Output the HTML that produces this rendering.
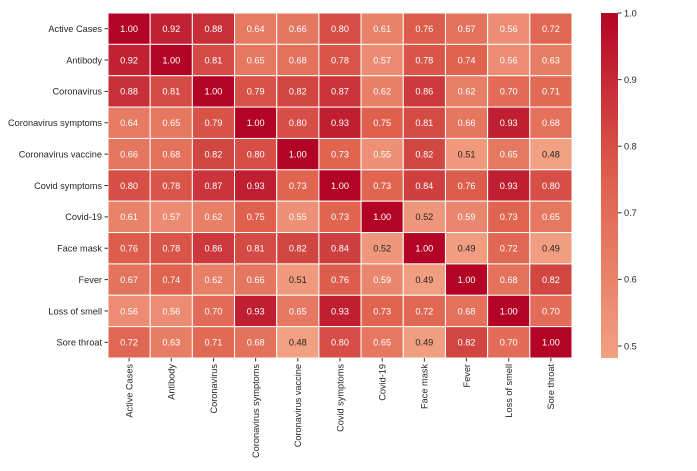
<!DOCTYPE html>
<html><head><meta charset="utf-8"><style>
body{margin:0;background:#fff;width:697px;height:466px;overflow:hidden}
svg text{font-family:"Liberation Sans","DejaVu Sans",sans-serif}
</style></head><body>
<svg id="chart" width="697" height="466"></svg>
<script>
const labels=["Active Cases","Antibody","Coronavirus","Coronavirus symptoms","Coronavirus vaccine","Covid symptoms","Covid-19","Face mask","Fever","Loss of smell","Sore throat"];
const row0=[1.00,0.92,0.88,0.64,0.66,0.80,0.61,0.76,0.67,0.56,0.72];
const row1=[0.92,1.00,0.81,0.65,0.68,0.78,0.57,0.78,0.74,0.56,0.63];
const row2=[0.88,0.81,1.00,0.79,0.82,0.87,0.62,0.86,0.62,0.70,0.71];
const row3=[0.64,0.65,0.79,1.00,0.80,0.93,0.75,0.81,0.66,0.93,0.68];
const row4=[0.66,0.68,0.82,0.80,1.00,0.73,0.55,0.82,0.51,0.65,0.48];
const row5=[0.80,0.78,0.87,0.93,0.73,1.00,0.73,0.84,0.76,0.93,0.80];
const row6=[0.61,0.57,0.62,0.75,0.55,0.73,1.00,0.52,0.59,0.73,0.65];
const row7=[0.76,0.78,0.86,0.81,0.82,0.84,0.52,1.00,0.49,0.72,0.49];
const row8=[0.67,0.74,0.62,0.66,0.51,0.76,0.59,0.49,1.00,0.68,0.82];
const row9=[0.56,0.56,0.70,0.93,0.65,0.93,0.73,0.72,0.68,1.00,0.70];
const row10=[0.72,0.63,0.71,0.68,0.48,0.80,0.65,0.49,0.82,0.70,1.00];
const values=[row0,row1,row2,row3,row4,row5,row6,row7,row8,row9,row10];
const cbTicks=[0.5,0.6,0.7,0.8,0.9,1.0];
const vmin=0.482,vmax=1.0;
const L=108,T=13,W=464,H=345,n=labels.length,cw=W/n,ch=H/n;
const FS=9.2;
const svg=document.getElementById('chart');
const NS='http://www.w3.org/2000/svg';
function mk(t,a){const e=document.createElementNS(NS,t);for(const k in a)e.setAttribute(k,a[k]);svg.appendChild(e);return e;}
const stops=[[0.74,[242,160,130]],[0.875,[222,96,77]],[1.0,[180,4,38]]];
function color(v){let t=0.74+0.26*Math.max(0,Math.min(1,(v-vmin)/(vmax-vmin)));
for(let i=0;i<stops.length-1;i++){const a=stops[i],b=stops[i+1];if(t<=b[0]){const f=(t-a[0])/(b[0]-a[0]);const c=a[1].map((x,j)=>Math.round(x+(b[1][j]-x)*f));return `rgb(${c})`;}}
return 'rgb(180,4,38)';}
const xs=i=>L+i*cw, ys=i=>T+i*ch;
values.forEach((row,r)=>row.forEach((v,c)=>{
const rc=mk('rect',{x:xs(c),y:ys(r),width:cw,height:ch,fill:color(v),stroke:'#fff','stroke-width':1});


const tx=mk('text',{x:xs(c)+cw/2,y:ys(r)+ch/2+3.3,'text-anchor':'middle','font-size':FS,fill:v<0.535?'#262626':'#fff'});
tx.textContent=v.toFixed(2);


}));
labels.forEach((lb,i)=>{
mk('line',{x1:L-3.5,x2:L,y1:ys(i)+ch/2,y2:ys(i)+ch/2,stroke:'#333'});
const t=mk('text',{x:L-6,y:ys(i)+ch/2+3.3,'text-anchor':'end','font-size':FS,fill:'#262626'});
t.textContent=lb;


const x=xs(i)+cw/2;
mk('line',{x1:x,x2:x,y1:T+H,y2:T+H+3.5,stroke:'#333'});
const u=mk('text',{x:0,y:0,'text-anchor':'end','font-size':FS,fill:'#262626',transform:`translate(${x+3.3},${T+H+6}) rotate(-90)`});
u.textContent=lb;


});
const cbx=601,cbw=17,cbT=13,cbH=345;
const g=mk('defs',{});
const lg=document.createElementNS(NS,'linearGradient');lg.setAttribute('id','cbg');lg.setAttribute('x1',0);lg.setAttribute('y1',1);lg.setAttribute('x2',0);lg.setAttribute('y2',0);g.appendChild(lg);
for(let k=0;k<=10;k++){const s=document.createElementNS(NS,'stop');s.setAttribute('offset',k/10);s.setAttribute('stop-color',color(vmin+(vmax-vmin)*k/10));lg.appendChild(s);}
const cb=mk('rect',{x:cbx,y:cbT,width:cbw,height:cbH,fill:'url(#cbg)'});


const cy=v=>cbT+cbH*(vmax-v)/(vmax-vmin);
cbTicks.forEach(v=>{
mk('line',{x1:cbx+cbw,x2:cbx+cbw+3.5,y1:cy(v),y2:cy(v),stroke:'#333'});
const t=mk('text',{x:cbx+cbw+6,y:cy(v)+3.3,'font-size':FS,fill:'#262626'});
t.textContent=v.toFixed(1);


});
</script>
</body></html>
